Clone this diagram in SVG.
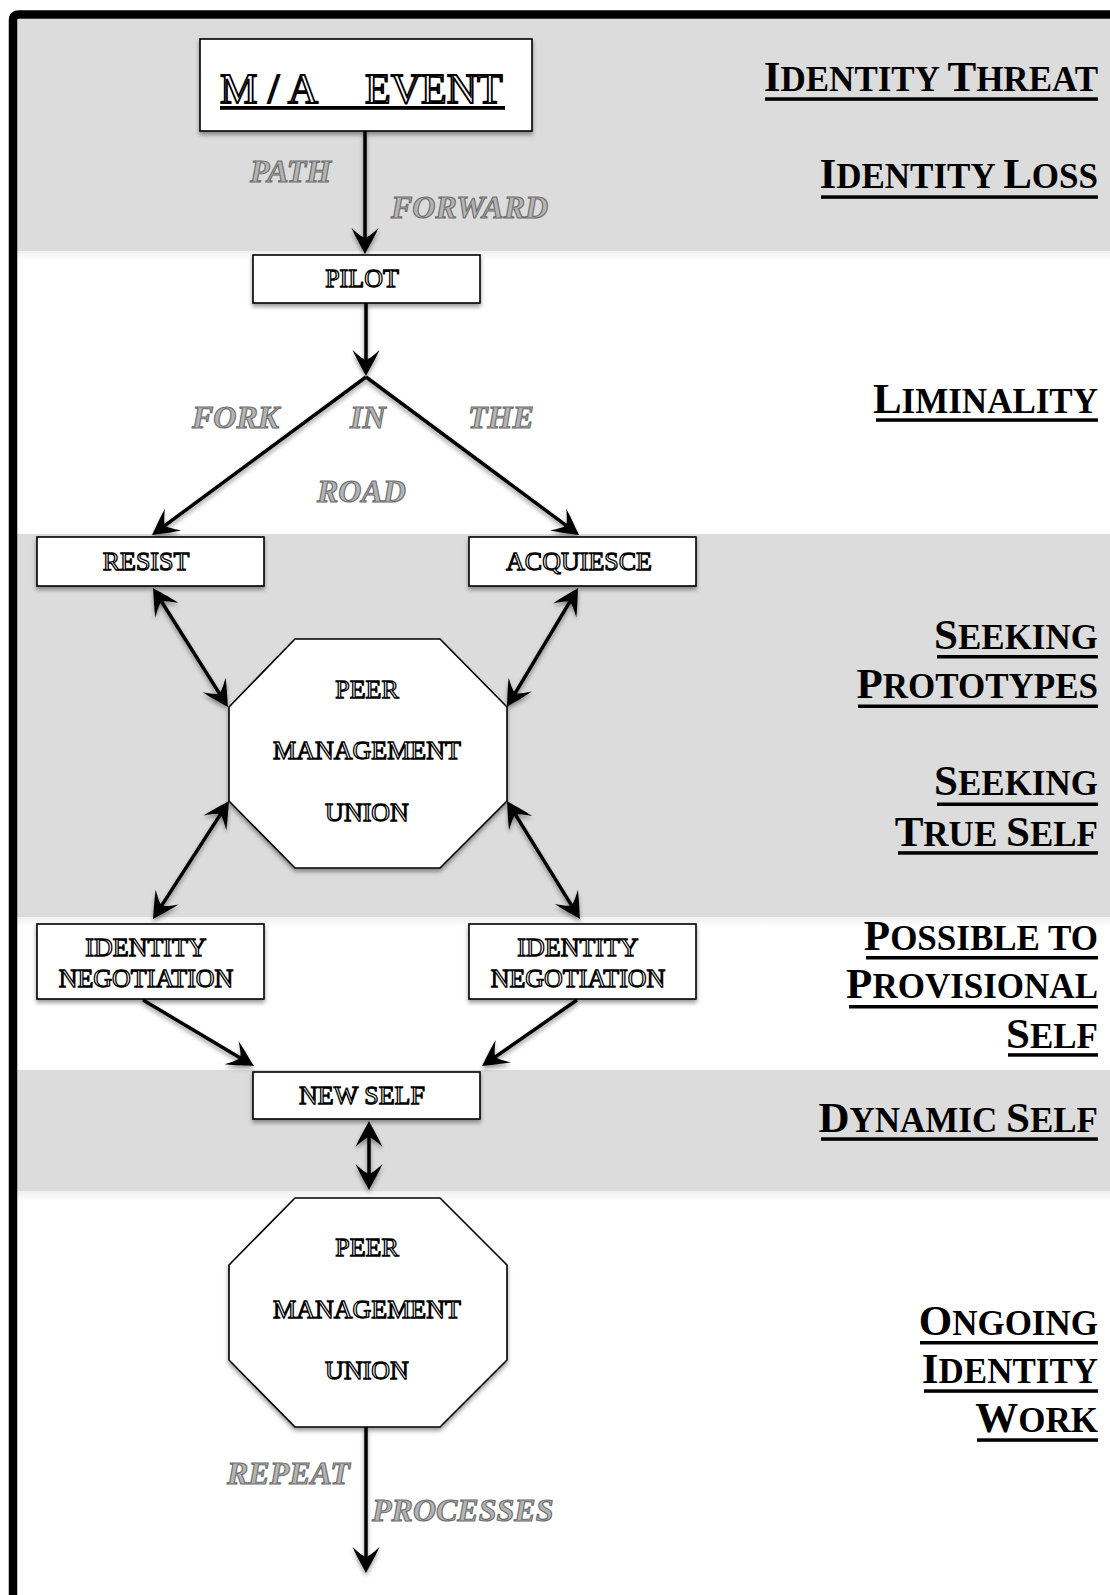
<svg xmlns="http://www.w3.org/2000/svg" width="1110" height="1595" viewBox="0 0 1110 1595">
  <style>
    .band { fill: #dcdcdc; }
    .box { fill: #ffffff; stroke: #000000; stroke-width: 1.6; }
    .node-text { font-family: "Liberation Serif", "Times New Roman", serif; font-size: 26px; fill: #ffffff; stroke: #000000; stroke-width: 1.3; text-anchor: middle; }
    .event-text { font-family: "Liberation Serif", "Times New Roman", serif; font-size: 42px; fill: #ffffff; stroke: #000000; stroke-width: 1.8; }
    .path-label { font-family: "Liberation Serif", "Times New Roman", serif; font-size: 32px; font-weight: bold; font-style: italic; fill: #b4b4b4; stroke: #6c6c6c; stroke-width: 1.1; }
    .phase { font-family: "Liberation Serif", "Times New Roman", serif; font-weight: bold; fill: #000000; text-anchor: end; }
    .cap { font-size: 43px; }
    .sc { font-size: 35px; }
    .rule { fill: #000000; }
    .conn { fill: none; stroke: #000000; stroke-width: 3.5; }
  </style>
  <defs>
    <marker id="head" markerUnits="userSpaceOnUse" viewBox="-40 -15 42 30" markerWidth="42" markerHeight="30" refX="-12" refY="0" orient="auto-start-reverse" overflow="visible">
      <path d="M0,0 C-6,-3 -16,-9 -26,-13.5 C-20,-7 -17,-3 -16,0 C-17,3 -20,7 -26,13.5 C-16,9 -6,3 0,0 Z" fill="#000000"/>
    </marker>
    <filter id="shadow" x="-20%" y="-20%" width="140%" height="150%">
      <feDropShadow dx="0" dy="3" stdDeviation="2.2" flood-color="#000000" flood-opacity="0.4"/>
    </filter>
    <linearGradient id="fade" x1="0" y1="0" x2="0" y2="1">
      <stop offset="0" stop-color="#000000" stop-opacity="0.06"/>
      <stop offset="1" stop-color="#000000" stop-opacity="0"/>
    </linearGradient>
  </defs>

  <!-- background and phase bands -->
  <rect x="0" y="0" width="1110" height="1595" fill="#ffffff"/>
  <g id="bands">
    <rect class="band" x="17" y="19" width="1093" height="232"/>
    <rect x="17" y="251" width="1093" height="10" fill="url(#fade)"/>
    <rect class="band" x="17" y="534" width="1093" height="383"/>
    <rect x="17" y="917" width="1093" height="10" fill="url(#fade)"/>
    <rect class="band" x="17" y="1070" width="1093" height="121"/>
    <rect x="17" y="1191" width="1093" height="10" fill="url(#fade)"/>
  </g>

  <!-- outer frame (open to the right and bottom) -->
  <path d="M13,1600 L13,20 Q13,14.5 19,14.5 L1115,14.5" fill="none" stroke="#000000" stroke-width="8.5"/>

  <!-- phase labels -->
  <g id="phases">
    <text class="phase" x="1098" y="91"><tspan class="cap">I</tspan><tspan class="sc">DENTITY </tspan><tspan class="cap">T</tspan><tspan class="sc">HREAT</tspan></text>
    <rect class="rule" x="765" y="97.3" width="333" height="3.5"/>
    <text class="phase" x="1098" y="188"><tspan class="cap">I</tspan><tspan class="sc">DENTITY </tspan><tspan class="cap">L</tspan><tspan class="sc">OSS</tspan></text>
    <rect class="rule" x="821" y="195.3" width="277" height="3.5"/>
    <text class="phase" x="1098" y="413"><tspan class="cap">L</tspan><tspan class="sc">IMINALITY</tspan></text>
    <rect class="rule" x="876" y="418.3" width="222" height="3.5"/>
    <text class="phase" x="1098" y="649"><tspan class="cap">S</tspan><tspan class="sc">EEKING</tspan></text>
    <rect class="rule" x="937" y="655" width="161" height="3.5"/>
    <text class="phase" x="1098" y="698"><tspan class="cap">P</tspan><tspan class="sc">ROTOTYPES</tspan></text>
    <rect class="rule" x="858" y="704.5" width="240" height="3.5"/>
    <text class="phase" x="1098" y="795"><tspan class="cap">S</tspan><tspan class="sc">EEKING</tspan></text>
    <rect class="rule" x="937" y="802.5" width="161" height="3.5"/>
    <text class="phase" x="1098" y="846"><tspan class="cap">T</tspan><tspan class="sc">RUE </tspan><tspan class="cap">S</tspan><tspan class="sc">ELF</tspan></text>
    <rect class="rule" x="898" y="851.2" width="200" height="3.5"/>
    <text class="phase" x="1098" y="950"><tspan class="cap">P</tspan><tspan class="sc">OSSIBLE TO</tspan></text>
    <rect class="rule" x="866" y="956" width="232" height="3.5"/>
    <text class="phase" x="1098" y="998"><tspan class="cap">P</tspan><tspan class="sc">ROVISIONAL</tspan></text>
    <rect class="rule" x="849" y="1005" width="249" height="3.5"/>
    <text class="phase" x="1098" y="1048"><tspan class="cap">S</tspan><tspan class="sc">ELF</tspan></text>
    <rect class="rule" x="1008" y="1053.2" width="90" height="3.5"/>
    <text class="phase" x="1098" y="1132"><tspan class="cap">D</tspan><tspan class="sc">YNAMIC </tspan><tspan class="cap">S</tspan><tspan class="sc">ELF</tspan></text>
    <rect class="rule" x="821" y="1137.3" width="277" height="3.5"/>
    <text class="phase" x="1098" y="1335"><tspan class="cap">O</tspan><tspan class="sc">NGOING</tspan></text>
    <rect class="rule" x="920" y="1341" width="178" height="3.5"/>
    <text class="phase" x="1098" y="1383"><tspan class="cap">I</tspan><tspan class="sc">DENTITY</tspan></text>
    <rect class="rule" x="924" y="1389.3" width="174" height="3.5"/>
    <text class="phase" x="1098" y="1432"><tspan class="cap">W</tspan><tspan class="sc">ORK</tspan></text>
    <rect class="rule" x="977" y="1438.3" width="121" height="3.5"/>
  </g>

  <!-- connectors -->
  <g id="connectors" filter="url(#shadow)">
    <path class="conn" d="M365,131 L365,242" marker-end="url(#head)"/>
    <path class="conn" d="M366,303 L366,364" marker-end="url(#head)"/>
    <path class="conn" d="M366,377 L161.7,527.9" marker-end="url(#head)"/>
    <path class="conn" d="M366,377 L569.4,527.9" marker-end="url(#head)"/>
    <path class="conn" d="M159.4,598.2 L221.6,696.9" marker-start="url(#head)" marker-end="url(#head)"/>
    <path class="conn" d="M571.9,598.3 L513.1,696.7" marker-start="url(#head)" marker-end="url(#head)"/>
    <path class="conn" d="M222.5,811.1 L159.5,908.9" marker-start="url(#head)" marker-end="url(#head)"/>
    <path class="conn" d="M513.3,811.2 L573.7,908.8" marker-start="url(#head)" marker-end="url(#head)"/>
    <path class="conn" d="M143,1000 L243.7,1059.9" marker-end="url(#head)"/>
    <path class="conn" d="M577,1000 L491.9,1059.2" marker-end="url(#head)"/>
    <path class="conn" d="M369,1133 L369,1178" marker-start="url(#head)" marker-end="url(#head)"/>
    <path class="conn" d="M366,1427 L366,1561" marker-end="url(#head)"/>
  </g>

  <!-- connector labels -->
  <g id="labels">
    <text class="path-label" x="250" y="182">PATH</text>
    <text class="path-label" x="391" y="218">FORWARD</text>
    <text class="path-label" x="192" y="428">FORK</text>
    <text class="path-label" x="350" y="428">IN</text>
    <text class="path-label" x="468" y="428">THE</text>
    <text class="path-label" x="317" y="502">ROAD</text>
    <text class="path-label" x="227" y="1484">REPEAT</text>
    <text class="path-label" x="372" y="1521">PROCESSES</text>
  </g>

  <!-- nodes -->
  <g id="event">
    <rect class="box" x="200" y="39" width="332" height="92" filter="url(#shadow)"/>
    <text class="event-text" x="220" y="103">M / A</text>
    <text class="event-text" x="365" y="103">EVENT</text>
    <rect class="rule" x="220" y="106" width="285" height="3.8"/>
  </g>

  <g id="pilot">
    <rect class="box" x="253" y="255" width="227" height="48" filter="url(#shadow)"/>
    <text class="node-text" x="362" y="287">PILOT</text>
  </g>

  <g id="resist">
    <rect class="box" x="37" y="537" width="227" height="49" filter="url(#shadow)"/>
    <text class="node-text" x="146" y="570">RESIST</text>
  </g>

  <g id="acquiesce">
    <rect class="box" x="469" y="537" width="227" height="49" filter="url(#shadow)"/>
    <text class="node-text" x="579" y="570">ACQUIESCE</text>
  </g>

  <g id="union-1">
    <polygon class="box" points="295,639 440,639 507,707 507,801 440,868 295,868 229,801 229,707" filter="url(#shadow)"/>
    <text class="node-text" x="367" y="698">PEER</text>
    <text class="node-text" x="367" y="759">MANAGEMENT</text>
    <text class="node-text" x="367" y="821">UNION</text>
  </g>

  <g id="negotiation-left">
    <rect class="box" x="37" y="924" width="227" height="75" filter="url(#shadow)"/>
    <text class="node-text" x="146" y="956">IDENTITY</text>
    <text class="node-text" x="146" y="987">NEGOTIATION</text>
  </g>

  <g id="negotiation-right">
    <rect class="box" x="469" y="924" width="227" height="75" filter="url(#shadow)"/>
    <text class="node-text" x="578" y="956">IDENTITY</text>
    <text class="node-text" x="578" y="987">NEGOTIATION</text>
  </g>

  <g id="new-self">
    <rect class="box" x="253" y="1072" width="227" height="47" filter="url(#shadow)"/>
    <text class="node-text" x="362" y="1104">NEW SELF</text>
  </g>

  <g id="union-2">
    <polygon class="box" points="295,1198 440,1198 507,1265 507,1360 440,1427 295,1427 229,1360 229,1265" filter="url(#shadow)"/>
    <text class="node-text" x="367" y="1256">PEER</text>
    <text class="node-text" x="367" y="1318">MANAGEMENT</text>
    <text class="node-text" x="367" y="1379">UNION</text>
  </g>
</svg>
